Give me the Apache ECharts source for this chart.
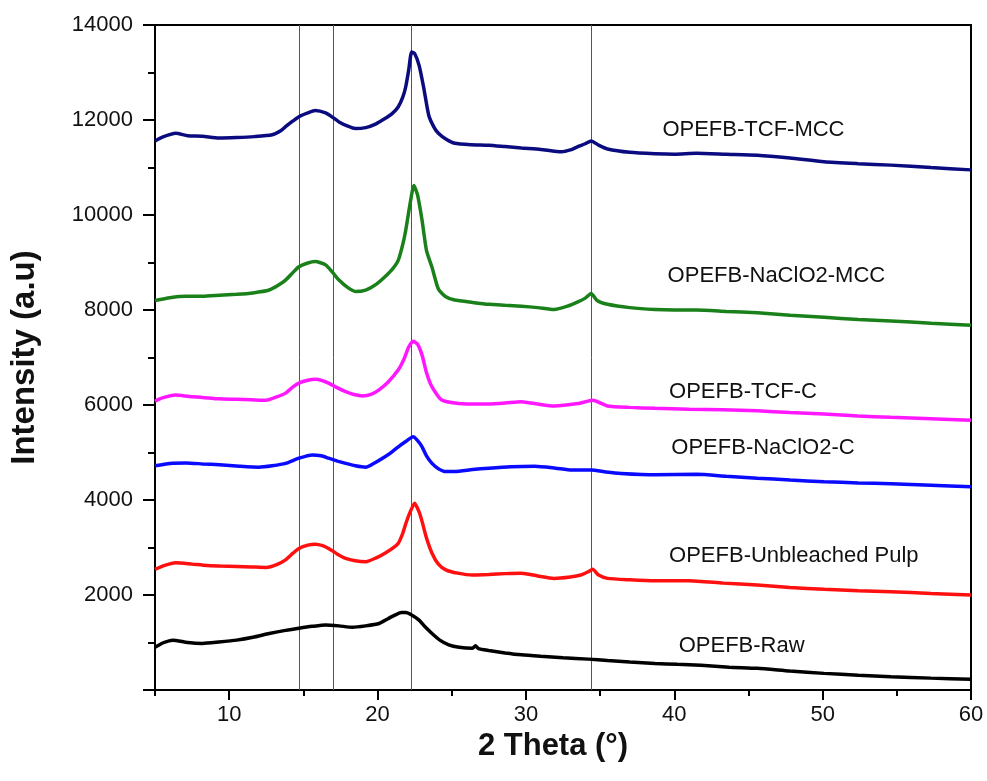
<!DOCTYPE html>
<html>
<head>
<meta charset="utf-8">
<script src="https://cdn.jsdelivr.net/npm/echarts@6/dist/echarts.min.js"></script>
<style>
html,body{margin:0;padding:0;background:#fff;}
#chart{width:987px;height:781px;}
</style>
</head>
<body>
<div id="chart"></div>
<script>
// ---- data (2θ, intensity) ----
const seriesNames = ['OPEFB-TCF-MCC','OPEFB-NaClO2-MCC','OPEFB-TCF-C','OPEFB-NaClO2-C','OPEFB-Unbleached Pulp','OPEFB-Raw'];
const seriesColors = ['#0b0b80','#1a801a','#ff18ff','#0a0aff','#ff1010','#000000'];

const tcfMcc = [[5.0,11560],[5.5,11640],[6.4,11720],[7.2,11670],[8.2,11660],[9.3,11620],[10.5,11630],[11.7,11650],[12.9,11690],[13.5,11780],[13.8,11860],[14.3,11980],[14.7,12070],[15.3,12150],[15.8,12200],[16.5,12150],[17.0,12050],[17.4,11960],[18.0,11870],[18.5,11820],[19.2,11840],[19.9,11920],[20.5,12030],[21.0,12140],[21.4,12280],[21.7,12480],[21.9,12700],[22.1,13050],[22.3,13430],[22.5,13400],[22.8,13150],[23.1,12700],[23.45,12100],[23.8,11850],[24.1,11720],[24.6,11600],[25.2,11510],[26.3,11480],[27.5,11470],[28.6,11440],[29.7,11410],[31.0,11380],[32.4,11330],[33.0,11370],[33.5,11440],[34.0,11500],[34.4,11560],[34.9,11470],[35.5,11390],[37.0,11320],[38.7,11290],[40.0,11280],[41.5,11300],[43.5,11280],[45.6,11260],[47.8,11200],[50.1,11120],[52.4,11080],[54.6,11050],[57.3,11000],[60.0,10950]];

const naclo2Mcc = [[5.0,8200],[6.0,8260],[7.1,8290],[8.2,8290],[9.35,8310],[10.5,8330],[11.6,8360],[12.7,8420],[13.3,8520],[13.8,8630],[14.3,8790],[14.7,8910],[15.3,8990],[15.8,9020],[16.5,8950],[17.0,8780],[17.4,8630],[18.0,8470],[18.5,8390],[19.2,8420],[19.9,8540],[20.5,8700],[21.0,8860],[21.4,9050],[21.7,9380],[21.9,9680],[22.2,10250],[22.45,10620],[22.7,10420],[23.0,9890],[23.3,9250],[23.67,8900],[24.1,8440],[24.6,8280],[25.2,8210],[26.4,8160],[27.5,8120],[28.6,8100],[29.7,8080],[30.8,8050],[31.9,8010],[32.8,8080],[33.5,8170],[34.0,8250],[34.4,8350],[34.8,8200],[35.5,8120],[37.0,8050],[38.7,8010],[40.0,8000],[41.5,8000],[43.5,7970],[45.6,7940],[47.8,7890],[50.1,7845],[52.4,7800],[54.6,7770],[57.3,7720],[60.0,7680]];

const tcfC = [[5.0,6080],[5.5,6150],[6.4,6210],[7.3,6180],[8.2,6160],[9.3,6130],[10.5,6120],[11.5,6110],[12.5,6100],[13.2,6170],[13.8,6250],[14.3,6380],[14.7,6460],[15.3,6520],[15.8,6540],[16.3,6510],[16.7,6460],[17.3,6360],[17.85,6280],[18.4,6220],[19.0,6190],[19.6,6230],[20.1,6320],[20.7,6480],[21.4,6740],[21.8,6980],[22.1,7220],[22.4,7340],[22.7,7280],[23.0,7050],[23.3,6680],[23.67,6380],[24.3,6110],[25.2,6040],[26.4,6020],[27.5,6020],[28.6,6040],[29.7,6070],[30.8,6020],[31.9,5980],[33.5,6030],[34.5,6100],[35.5,5980],[37.0,5950],[38.7,5930],[41.0,5910],[43.3,5900],[45.6,5880],[47.8,5840],[50.1,5810],[52.4,5770],[54.6,5740],[57.3,5710],[60.0,5680]];

const naclo2C = [[5.0,4720],[6.0,4770],[7.1,4780],[8.2,4760],[9.35,4740],[10.7,4710],[12.0,4690],[12.9,4720],[13.8,4770],[14.7,4880],[15.6,4950],[16.2,4930],[16.7,4880],[17.3,4820],[17.85,4770],[18.5,4720],[19.2,4690],[19.8,4780],[20.5,4910],[21.0,5020],[21.4,5120],[21.9,5230],[22.4,5330],[22.7,5250],[23.0,5120],[23.3,4930],[23.67,4770],[24.1,4660],[24.6,4600],[25.2,4600],[26.4,4640],[27.5,4670],[29.0,4700],[30.6,4710],[32.0,4670],[33.1,4630],[34.4,4630],[35.4,4590],[36.4,4560],[38.7,4530],[41.5,4540],[43.5,4500],[45.6,4460],[47.8,4420],[50.1,4385],[52.4,4360],[54.6,4340],[57.3,4310],[60.0,4280]];

const unbleached = [[5.0,2540],[5.6,2620],[6.4,2680],[7.5,2650],[8.5,2620],[9.4,2610],[10.5,2600],[11.5,2590],[12.5,2580],[13.2,2640],[13.8,2740],[14.3,2880],[14.7,2980],[15.3,3050],[15.8,3070],[16.3,3040],[16.7,2980],[17.3,2860],[17.85,2770],[18.5,2720],[19.2,2700],[19.9,2780],[20.5,2880],[21.0,2980],[21.4,3090],[21.7,3300],[21.9,3500],[22.2,3750],[22.5,3930],[22.8,3750],[23.0,3550],[23.3,3200],[23.67,2880],[24.1,2650],[24.6,2530],[25.4,2460],[26.4,2420],[27.5,2430],[28.6,2450],[29.7,2460],[30.8,2400],[31.9,2350],[33.0,2380],[33.7,2420],[34.2,2490],[34.5,2540],[34.9,2420],[35.5,2350],[37.0,2320],[38.7,2300],[41.0,2300],[43.3,2250],[45.6,2210],[47.8,2160],[50.1,2120],[52.4,2090],[54.6,2070],[57.3,2030],[60.0,2000]];

const raw = [[5.0,900],[5.6,1000],[6.2,1050],[7.2,1000],[8.2,980],[9.3,1010],[10.5,1050],[11.6,1110],[12.7,1190],[13.7,1250],[14.7,1300],[15.6,1340],[16.5,1370],[17.4,1350],[18.3,1320],[19.2,1350],[20.1,1400],[20.7,1500],[21.2,1580],[21.6,1630],[21.9,1630],[22.3,1580],[22.8,1470],[23.2,1330],[23.67,1190],[24.2,1050],[24.8,950],[25.5,900],[26.4,880],[26.6,930],[26.8,870],[27.5,830],[28.6,780],[29.7,740],[31.0,710],[32.5,680],[34.2,650],[35.5,620],[37.0,590],[38.7,560],[40.2,540],[41.8,520],[43.7,480],[45.6,456],[47.8,400],[50.1,350],[52.4,310],[54.6,280],[57.3,250],[60.0,225]];

const refLines = [14.7, 17.0, 22.3, 34.4];
const xMajorTicks = [10, 20, 30, 40, 50, 60];
const xMinorTicks = [5, 15, 25, 35, 45, 55];

const allData = [tcfMcc, naclo2Mcc, tcfC, naclo2C, unbleached, raw];

// label anchors in data coordinates (left edge, vertical centre)
const labelPos = [[39.2, 11790],[39.55, 8715],[39.65, 6270],[39.8, 5094],[39.65, 2821],[40.3, 926]];

const FONT = "'Liberation Sans', Arial, sans-serif";

const chart = echarts.init(document.getElementById('chart'), null, {renderer: 'canvas'});

const series = allData.map((d, i) => {
  const s = {
    name: seriesNames[i],
    type: 'line',
    data: d,
    showSymbol: false,
    smooth: 0.2,
    lineStyle: {color: seriesColors[i], width: 3.5},
    itemStyle: {color: seriesColors[i]},
    z: 3,
    silent: true,
    markPoint: {
      symbol: 'circle', symbolSize: 0, silent: true,
      label: {show: true, position: 'right', distance: 0, formatter: seriesNames[i], color: '#111', fontSize: 22, fontFamily: FONT},
      data: [{coord: labelPos[i]}]
    }
  };
  if (i === 0) {
    s.markLine = {
      silent: true,
      symbol: ['none','none'],
      label: {show: false},
      lineStyle: {color: '#555', width: 1, type: 'solid'},
      data: refLines.map(v => ({xAxis: v})),
      z: 1
    };
  }
  return s;
});

chart.setOption({
  animation: false,
  backgroundColor: '#fff',
  grid: {left: 152, right: 16, top: 25, bottom: 91, show: true, borderColor: '#000', borderWidth: 2, backgroundColor: 'transparent'},
  xAxis: [
    {
      type: 'value', min: 5, max: 60,
      name: '2 Theta (°)', nameLocation: 'middle', nameGap: 27,
      nameTextStyle: {fontSize: 31, fontWeight: 'bold', color: '#111', fontFamily: FONT, padding: [0, 20, 0, 0]},
      axisLine: {show: true, onZero: false, lineStyle: {color: '#000', width: 2}},
      axisTick: {show: true, length: 10, lineStyle: {color: '#000', width: 2}, customValues: xMajorTicks},
      axisLabel: {show: true, fontSize: 22, color: '#111', margin: 14, fontFamily: FONT, customValues: xMajorTicks},
      splitLine: {show: false}
    },
    {
      type: 'value', min: 5, max: 60, position: 'bottom',
      axisLine: {show: false, onZero: false},
      axisTick: {show: true, length: 6, lineStyle: {color: '#000', width: 2}, customValues: xMinorTicks},
      axisLabel: {show: false},
      splitLine: {show: false}
    }
  ],
  yAxis: {
    type: 'value', min: 0, max: 14000, interval: 2000,
    name: 'Intensity (a.u)', nameLocation: 'middle', nameGap: 114, nameRotate: 90,
    nameTextStyle: {fontSize: 33, fontWeight: 'bold', color: '#111', fontFamily: FONT},
    axisLine: {show: true, lineStyle: {color: '#000', width: 2}},
    axisTick: {show: true, length: 12, lineStyle: {color: '#000', width: 2}},
    minorTick: {show: true, splitNumber: 2, length: 7, lineStyle: {color: '#000', width: 2}},
    axisLabel: {fontSize: 22, color: '#111', margin: 22, fontFamily: FONT, formatter: v => (v === 0 ? '' : String(v))},
    splitLine: {show: false}
  },
  series: series
});
</script>
</body>
</html>
